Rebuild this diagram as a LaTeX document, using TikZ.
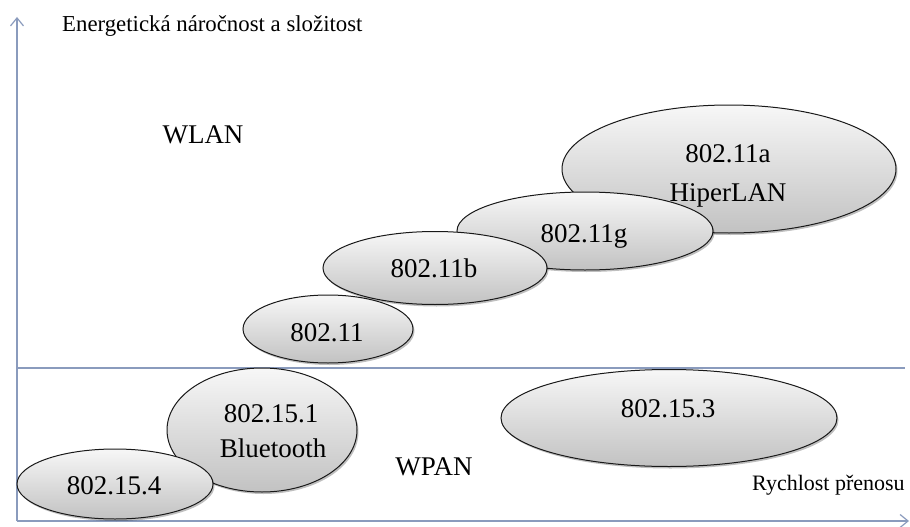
\documentclass[tikz,border=0pt]{standalone}
\usepackage{fontspec}
\setmainfont{Liberation Serif}
\usetikzlibrary{shapes.geometric,arrows.meta,shadows}
\definecolor{axisblue}{HTML}{8A9BBD}
\definecolor{bubbletop}{HTML}{F7F7F7}
\definecolor{bubblebot}{HTML}{C2C2C2}
\begin{document}
\begin{tikzpicture}[x=1pt,y=-1pt,
  bubble/.style={ellipse, draw=black!90, line width=1pt, inner sep=0pt,
    top color=bubbletop, bottom color=bubblebot,
    drop shadow={shadow xshift=1.5pt, shadow yshift=-2pt, opacity=0.25, fill=black}},
  lbl/.style={font=\fontsize{27}{31}\selectfont, inner sep=0pt, anchor=base},
  axislbl/.style={font=\fontsize{22}{26}\selectfont, inner sep=0pt},
  axisline/.style={draw=axisblue, line width=1.4pt},
  tip/.style={-{Straight Barb[length=8pt,width=13pt,line width=1.2pt]}}
]
% canvas
\fill[white] (0,0) rectangle (910,527);
\useasboundingbox (0,0) rectangle (910,527);

% axes and the WLAN / WPAN divider
\coordinate (origin) at (17,521);
\coordinate (ytip) at (17,17);
\coordinate (xtip) at (909,521);
\coordinate (divl) at (17,368);
\coordinate (divr) at (905,368);
\draw[axisline, tip] (origin) -- (ytip);
\draw[axisline, tip] (origin) -- (xtip);
\draw[axisline] (divl) -- (divr);

% WLAN standards (back to front)
\node[bubble, minimum width=334pt, minimum height=128pt] (e11a) at (729,169) {};
\node[bubble, minimum width=256pt, minimum height=78pt]  (e11g) at (585,231) {};
\node[bubble, minimum width=224pt, minimum height=73pt]  (e11b) at (435,268) {};
\node[bubble, minimum width=170pt, minimum height=68pt]  (e11)  at (328,329) {};

% WPAN standards
\node[bubble, minimum width=336pt, minimum height=97pt]  (e153) at (669,418) {};
\node[bubble, minimum width=190pt, minimum height=124pt] (e151) at (262,430) {};
\node[bubble, minimum width=196pt, minimum height=70pt]  (e154) at (115,484) {};

% labels inside the ellipses
\node[lbl] (t11a)  at (728,162) {802.11a};
\node[lbl] (t11ah) at (728,201) {HiperLAN};
\node[lbl] (t11g)  at (584,242) {802.11g};
\node[lbl] (t11b)  at (434,277) {802.11b};
\node[lbl] (t11)   at (327,341) {802.11};
\node[lbl] (t153)  at (668,417) {802.15.3};
\node[lbl] (t151)  at (271,422) {802.15.1};
\node[lbl] (t151b) at (273,457) {Bluetooth};
\node[lbl] (t154)  at (114,494) {802.15.4};

% group names
\node[lbl] (wlan) at (203,143) {WLAN};
\node[lbl] (wpan) at (434,475) {WPAN};

% axis titles
\node[axislbl, anchor=base west, font=\fontsize{22.8}{26}\selectfont] (ylab) at (62,32) {Energetická náročnost a složitost};
\node[axislbl, anchor=base west] (xlab) at (752,490) {Rychlost přenosu};
\end{tikzpicture}
\end{document}
